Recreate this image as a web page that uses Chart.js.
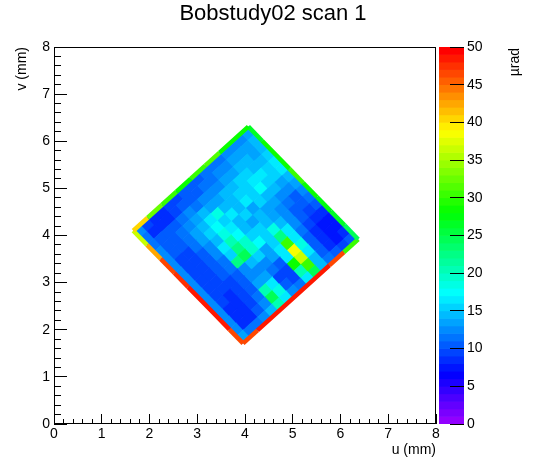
<!DOCTYPE html>
<html>
<head>
<meta charset="utf-8">
<script src="https://cdn.jsdelivr.net/npm/chart.js@4.4.1/dist/chart.umd.min.js"></script>
<style>
  html, body { margin: 0; padding: 0; background: #fff; }
  #wrap { position: relative; width: 546px; height: 472px; }
  #main { position: absolute; left: 0; top: 0; }
  #pal { position: absolute; left: 436px; top: 0; }
</style>
</head>
<body>
<div id="wrap">
  <canvas id="main" width="546" height="472"></canvas>
  <canvas id="pal" width="110" height="472"></canvas>
</div>
<script>
var FONT = "'Liberation Sans', Arial, Helvetica, sans-serif";

var chartTitle = 'Bobstudy02 scan 1';
var uTitle = 'u (mm)';
var vTitle = 'v (mm)';
var zTitle = '\u00b5rad';
var uRange = [0, 8];
var vRange = [0, 8];
var zRange = [0, 50];
var zStep = 5;
var nLevels = 50;

// corners of the scanned square (mm)
var cornerLeft = [1.66, 4.10];
var cornerTop = [4.07, 6.31];
var cornerBottom = [3.96, 1.71];

// cell values (urad): rows go from the upper-left edge to the lower-right edge,
// columns from the lower-left edge to the upper-right edge
var cellValues = [
  [12, 9, 8, 8, 9, 9, 10, 10, 10, 11, 11, 11, 12, 12, 12, 13],
  [11, 8, 8, 8, 9, 10, 10, 10, 11, 11, 12, 12, 13, 13, 13, 14],
  [11, 10, 10, 10, 11, 12, 11, 12, 12, 12, 13, 13, 14, 14, 13, 14],
  [12, 10, 10, 11, 12, 13, 14, 13, 13, 14, 14, 15, 15, 14, 14, 15],
  [12, 10, 10, 11, 13, 14, 16, 18, 14, 14, 15, 15, 16, 16, 15, 16],
  [12, 9, 9, 11, 13, 15, 17, 15, 16, 14, 16, 15, 17, 15, 15, 16],
  [12, 9, 9, 10, 12, 14, 18, 16, 14, 15, 13, 15, 14, 14, 13, 14],
  [12, 9, 9, 10, 12, 16, 20, 17, 14, 13, 14, 13, 13, 12, 12, 13],
  [12, 9, 9, 10, 11, 15, 22, 19, 15, 15, 14, 13, 12, 11, 10, 12],
  [12, 9, 9, 10, 11, 22, 24, 19, 17, 15, 18, 14, 12, 10, 10, 11],
  [12, 9, 9, 9, 10, 12, 14, 15, 13, 15, 22, 16, 12, 10, 9, 10],
  [12, 9, 8, 9, 10, 12, 12, 12, 13, 16, 30, 16, 11, 9, 8, 8],
  [12, 8, 8, 9, 10, 13, 13, 11, 10, 16, 38, 18, 10, 8, 7, 7],
  [12, 8, 8, 9, 11, 20, 16, 9, 9, 28, 36, 16, 10, 8, 7, 7],
  [12, 8, 8, 10, 12, 24, 18, 10, 9, 20, 30, 14, 10, 8, 7, 8],
  [13, 11, 11, 12, 14, 20, 16, 12, 11, 16, 24, 14, 11, 10, 9, 10]
];

// values along the border strips, from the first corner to the second
var edgeNW = [40, 32, 30, 29, 30, 31, 29, 28];   // left -> top
var edgeNE = [26, 28, 28, 30, 28, 27, 26, 24];   // top -> right
var edgeSE = [30, 46, 48, 48, 48, 48, 48, 46];   // right -> bottom
var edgeSW = [46, 48, 48, 48, 47, 46, 42, 36];   // bottom -> left

Chart.defaults.font.family = FONT;
Chart.defaults.color = '#000';

function levelIndex(z) {
  var i = Math.floor((z - zRange[0]) / (zRange[1] - zRange[0]) * nLevels);
  return Math.max(0, Math.min(nLevels - 1, i));
}
function levelColor(z) {
  var hue = 280 - (levelIndex(z) + 1) * 280 / nLevels;
  return 'hsl(' + hue.toFixed(1) + ',100%,50%)';
}

var cornerRight = [cornerTop[0] + cornerBottom[0] - cornerLeft[0],
                   cornerTop[1] + cornerBottom[1] - cornerLeft[1]];
var nRows = cellValues.length, nCols = cellValues[0].length;
var stepA = [(cornerBottom[0] - cornerLeft[0]) / nRows, (cornerBottom[1] - cornerLeft[1]) / nRows];
var stepB = [(cornerTop[0] - cornerLeft[0]) / nCols, (cornerTop[1] - cornerLeft[1]) / nCols];

var cells = [];
cellValues.forEach(function(row, a) {
  row.forEach(function(z, b) {
    cells.push({
      x: cornerLeft[0] + (a + 0.5) * stepA[0] + (b + 0.5) * stepB[0],
      y: cornerLeft[1] + (a + 0.5) * stepA[1] + (b + 0.5) * stepB[1],
      z: z
    });
  });
});

function edgePoints(p0, p1, values) {
  var pts = [];
  for (var i = 0; i <= values.length; i++) {
    var f = i / values.length;
    pts.push({x: p0[0] + (p1[0] - p0[0]) * f, y: p0[1] + (p1[1] - p0[1]) * f});
  }
  return pts;
}

function edgeDataset(p0, p1, values) {
  return {
    type: 'scatter',
    showLine: true,
    data: edgePoints(p0, p1, values),
    pointRadius: 0,
    borderWidth: 4.5,
    borderColor: levelColor(values[0]),
    segment: { borderColor: function(ctx) { return levelColor(values[ctx.p0DataIndex]); } },
    order: 0
  };
}

function cellRadius(ctx) {
  var sx = ctx.chart.scales.x, sy = ctx.chart.scales.y;
  var la = Math.hypot(sx.getPixelForValue(stepA[0]) - sx.getPixelForValue(0),
                      sy.getPixelForValue(stepA[1]) - sy.getPixelForValue(0));
  var lb = Math.hypot(sx.getPixelForValue(stepB[0]) - sx.getPixelForValue(0),
                      sy.getPixelForValue(stepB[1]) - sy.getPixelForValue(0));
  return (la + lb) / 2 / Math.SQRT2 * 1.07;
}

function isWhole(v) { return Math.abs(v - Math.round(v)) < 1e-6; }

var tickFont = {family: FONT, size: 14};

var framePlugin = {
  id: 'frame',
  afterDraw: function(chart) {
    var a = chart.chartArea, ctx = chart.ctx;
    ctx.save();
    ctx.strokeStyle = '#000';
    ctx.lineWidth = 1;
    ctx.strokeRect(a.left + 0.5, a.top + 0.5, a.right - a.left - 1, a.bottom - a.top - 1);
    ctx.restore();
  }
};

new Chart(document.getElementById('main'), {
  type: 'scatter',
  data: {
    datasets: [
      edgeDataset(cornerLeft, cornerTop, edgeNW),
      edgeDataset(cornerTop, cornerRight, edgeNE),
      edgeDataset(cornerRight, cornerBottom, edgeSE),
      edgeDataset(cornerBottom, cornerLeft, edgeSW),
      {
        data: cells,
        pointStyle: 'rectRot',
        pointRotation: 1.75,
        pointRadius: cellRadius,
        pointHoverRadius: cellRadius,
        pointBorderWidth: 0,
        pointBackgroundColor: function(ctx) { return levelColor(ctx.raw.z); },
        order: 1
      }
    ]
  },
  options: {
    responsive: false,
    animation: false,
    events: [],
    layout: {padding: 0},
    plugins: {
      legend: {display: false},
      tooltip: {enabled: false},
      title: {
        display: true,
        text: chartTitle,
        color: '#000',
        font: {family: FONT, size: 22, weight: 'normal'},
        padding: {top: 1, bottom: 19.6}
      }
    },
    scales: {
      x: {
        type: 'linear', min: uRange[0], max: uRange[1], position: 'bottom',
        ticks: {
          stepSize: 0.2, autoSkip: false, maxRotation: 0, minRotation: 0,
          font: tickFont, color: '#000', padding: 7,
          callback: function(v) { return isWhole(v) ? String(Math.round(v)) : ''; }
        },
        grid: {drawOnChartArea: false, tickLength: -5, color: '#000', tickColor: '#000', z: 1},
        border: {display: false},
        title: {display: true, text: uTitle, align: 'end', font: tickFont, color: '#000', padding: 13.8},
        afterFit: function(s) { s.height = 48; }
      },
      x2: {
        type: 'linear', axis: 'x', min: uRange[0], max: uRange[1], position: {y: 0},
        ticks: {display: false, stepSize: 1},
        grid: {drawOnChartArea: false, tickLength: -10, color: '#000', tickColor: '#000', z: 1},
        border: {display: false}
      },
      y: {
        type: 'linear', min: vRange[0], max: vRange[1], position: 'left',
        ticks: {
          stepSize: 0.2, autoSkip: false,
          font: tickFont, color: '#000', padding: 11,
          callback: function(v) { return isWhole(v) ? String(Math.round(v)) : ''; }
        },
        grid: {drawOnChartArea: false, tickLength: -7, color: '#000', tickColor: '#000', z: 1},
        border: {display: false},
        title: {display: true, text: vTitle, align: 'end', font: tickFont, color: '#000', padding: 14},
        afterFit: function(s) { s.width = 54; }
      },
      y2: {
        type: 'linear', axis: 'y', min: vRange[0], max: vRange[1], position: {x: 0},
        ticks: {display: false, stepSize: 1},
        grid: {drawOnChartArea: false, tickLength: -13, color: '#000', tickColor: '#000', z: 1},
        border: {display: false}
      },
      side: {
        type: 'linear', axis: 'y', position: 'right',
        ticks: {display: false},
        grid: {display: false},
        border: {display: false},
        afterFit: function(s) { s.width = 110; }
      }
    }
  },
  plugins: [framePlugin]
});

// colour palette
var levels = [];
for (var i = 0; i < nLevels; i++) levels.push(i);

var zTitlePlugin = {
  id: 'ztitle',
  afterDraw: function(chart) {
    var ctx = chart.ctx;
    ctx.save();
    ctx.font = '14px ' + FONT;
    ctx.fillStyle = '#000';
    ctx.translate(79, 48);
    ctx.rotate(-Math.PI / 2);
    ctx.textAlign = 'right';
    ctx.textBaseline = 'middle';
    ctx.fillText(zTitle, 0, 0);
    ctx.restore();
  }
};

new Chart(document.getElementById('pal'), {
  type: 'bar',
  data: {
    labels: levels,
    datasets: [{
      data: levels.map(function() { return 1; }),
      backgroundColor: levels.map(function(l) {
        return levelColor(zRange[0] + (l + 0.5) * (zRange[1] - zRange[0]) / nLevels);
      }),
      borderWidth: 0,
      barPercentage: 1,
      categoryPercentage: 1,
      xAxisID: 'w',
      yAxisID: 'lv'
    }]
  },
  options: {
    indexAxis: 'y',
    responsive: false,
    animation: false,
    events: [],
    layout: {padding: {left: 3, top: 47, bottom: 48, right: 0}},
    plugins: {legend: {display: false}, tooltip: {enabled: false}},
    scales: {
      w: {type: 'linear', axis: 'x', min: 0, max: 1, display: false},
      lv: {type: 'category', axis: 'y', display: false, reverse: true, offset: true},
      z: {
        type: 'linear', axis: 'y', position: 'right', min: zRange[0], max: zRange[1],
        offset: false,
        ticks: {stepSize: zStep, font: tickFont, color: '#000', padding: 17},
        grid: {offset: false, drawOnChartArea: false, tickLength: -14, color: '#000', tickColor: '#000', z: 1},
        border: {display: false},
        afterFit: function(s) { s.width = 82; }
      }
    }
  },
  plugins: [zTitlePlugin]
});
</script>
</body>
</html>
